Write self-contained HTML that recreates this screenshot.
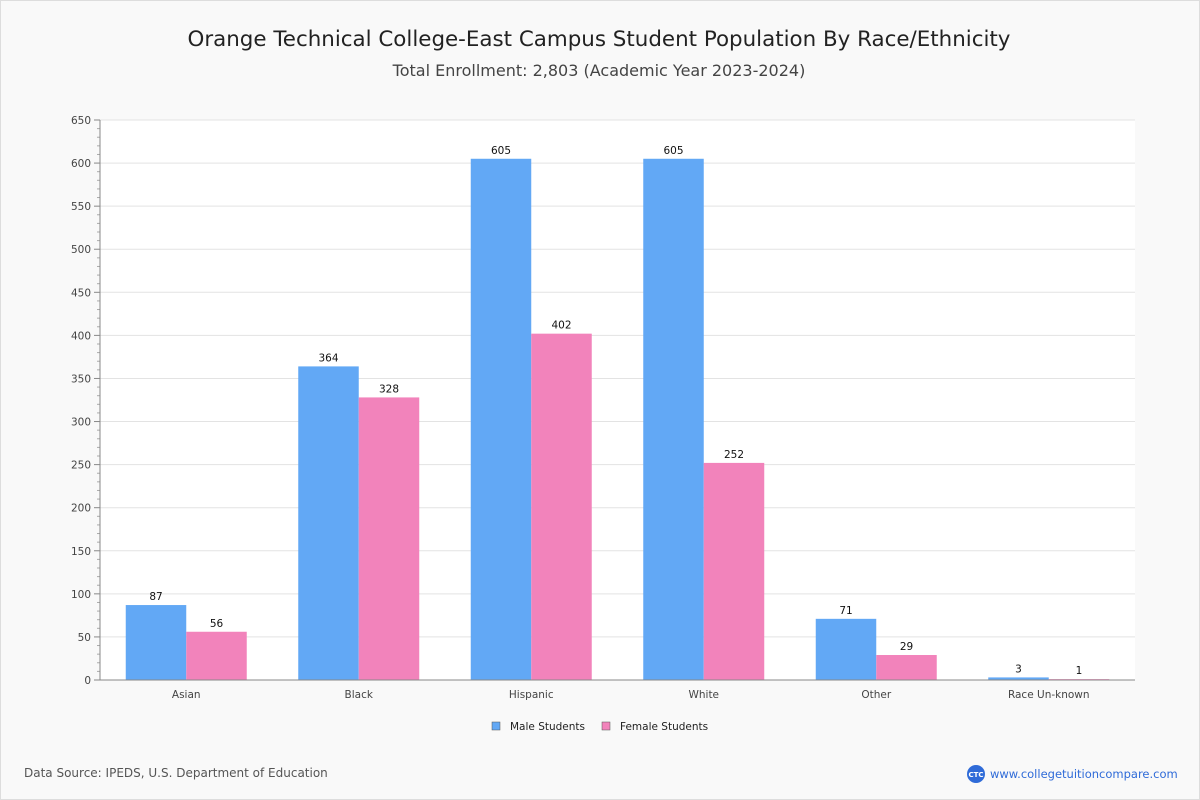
<!DOCTYPE html>
<html><head><meta charset="utf-8"><style>
body{margin:0;background:#fff;font-family:"DejaVu Sans","Liberation Sans",sans-serif}
#wrap{position:absolute;left:0;top:0;width:1198px;height:798px;border:1px solid #ddd;background:#f9f9f9}
</style></head><body>
<div id="wrap">
<svg id="svg" width="1200" height="800" xmlns="http://www.w3.org/2000/svg" style="position:absolute;left:-1px;top:-1px">
<text x="599" y="46" text-anchor="middle" font-size="21.4" fill="#222">Orange Technical College-East Campus Student Population By Race/Ethnicity</text>
<text x="599" y="76" text-anchor="middle" font-size="16" fill="#444">Total Enrollment: 2,803 (Academic Year 2023-2024)</text>
<rect x="100" y="120" width="1035" height="560" fill="#fff"/>
<g id="grid"></g><g id="bars"></g><g id="axes"></g>
<g>
<rect x="492" y="722" width="8" height="8" fill="#62a8f5" stroke="#555" stroke-width="0.5"/>
<text x="510" y="730" font-size="10.5" fill="#222">Male Students</text>
<rect x="602" y="722" width="8" height="8" fill="#f283bb" stroke="#555" stroke-width="0.5"/>
<text x="620" y="730" font-size="10.5" fill="#222">Female Students</text>
</g>
<text x="24" y="777" font-size="12" fill="#555">Data Source: IPEDS, U.S. Department of Education</text>
<circle cx="976" cy="774" r="9" fill="#2f6bd8"/>
<text x="976" y="777" text-anchor="middle" font-size="7" fill="#fff" font-weight="bold">CTC</text>
<text x="990" y="778" font-size="11.5" fill="#2f6bd8">www.collegetuitioncompare.com</text>
</svg></div>
<script>
const categories=["Asian","Black","Hispanic","White","Other","Race Un-known"];
const maleValues=[87,364,605,605,71,3];
const femaleValues=[56,328,402,252,29,1];
const yTicks=[0,50,100,150,200,250,300,350,400,450,500,550,600,650];
const NS="http://www.w3.org/2000/svg";
const X0=100,X1=1135,Y0=680,Y1=120,YMAX=650;
const y=v=>Y0-(v/YMAX)*(Y0-Y1);
const band=(X1-X0)/categories.length;
const bx=i=>X0+band*i+band/2;
function mk(tag,attrs,parent,text){const e=document.createElementNS(NS,tag);for(const k in attrs)e.setAttribute(k,attrs[k]);if(text!==undefined)e.textContent=text;document.getElementById(parent).appendChild(e);return e;}
yTicks.forEach(t=>{
 if(t>0){const g=mk('line',{x1:X0,x2:X1,y1:y(t),y2:y(t),stroke:'#e3e3e3'},'grid');
 
 }
 const l=mk('text',{x:91,y:y(t)+4,'text-anchor':'end','font-size':10.5,fill:'#444'},'axes',t);
 
 
 mk('line',{x1:94,x2:X0,y1:y(t),y2:y(t),stroke:'#888'},'axes');
});
for(let v=0;v<YMAX;v+=10){if(v%50)mk('line',{x1:97,x2:X0,y1:y(v),y2:y(v),stroke:'#aaa'},'axes');}
mk('line',{x1:X0,x2:X0,y1:Y1,y2:Y0,stroke:'#888'},'axes');
mk('line',{x1:X0,x2:X1,y1:Y0,y2:Y0,stroke:'#888'},'axes');
const bw=60.5;
categories.forEach((c,i)=>{
 const cx=bx(i);
 [[maleValues[i],'#62a8f5',cx-bw,'male'],[femaleValues[i],'#f283bb',cx,'female']].forEach(([v,col,x,s])=>{
  const r=mk('rect',{x:x,y:y(v),width:bw,height:Y0-y(v),fill:col},'bars');
  
  
  const t=mk('text',{x:x+bw/2,y:y(v)-5,'text-anchor':'middle','font-size':10.5,fill:'#111'},'bars',v);
  
  
 });
 const l=mk('text',{x:cx,y:698,'text-anchor':'middle','font-size':10.5,fill:'#444'},'axes',c);
 
 
});
</script>
</body></html>
